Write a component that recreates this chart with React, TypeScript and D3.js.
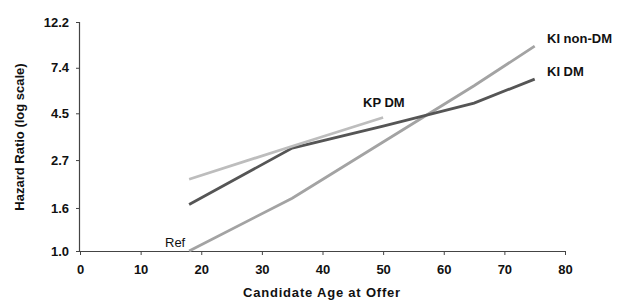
import React, { useRef, useEffect } from "react";
import * as d3 from "d3";

interface Pt {
  age: number;
  hr: number;
}

// values
const ages = [18, 35, 50, 65, 75];
const kiNonDm = [1.0, 1.78, 3.29, 6.08, 9.37];
const kiDm = [1.66, 3.08, 3.91, 5.03, 6.54];
const kpAges = [18, 35, 50];
const kpDm = [2.19, 3.14, 4.3];

const xTicks = [0, 10, 20, 30, 40, 50, 60, 70, 80];
const yTicks = [1.0, 1.6, 2.7, 4.5, 7.4, 12.2];

const series = [
  { name: "KI non-DM", ages: ages, values: kiNonDm, color: "#a3a3a3" },
  { name: "KI DM", ages: ages, values: kiDm, color: "#555555" },
  { name: "KP DM", ages: kpAges, values: kpDm, color: "#bdbdbd" },
];

const width = 621;
const height = 301;
const font = "'Liberation Sans', Arial, sans-serif";

const App: React.FC = () => {
  const svgRef = useRef<SVGSVGElement | null>(null);

  useEffect(() => {
    if (!svgRef.current) return;
    const svg = d3.select(svgRef.current);
    svg.selectAll("*").remove();

    const x = d3.scaleLinear().domain([0, 80]).range([80, 565]);
    const y = d3.scaleLog().domain([1, 12.2]).range([251, 22]);

    // axes
    const xAxis = svg.append("g")
      .attr("transform", `translate(0,${y(1)})`)
      .call(d3.axisBottom(x).tickValues(xTicks).tickSize(4).tickPadding(10).tickFormat(d3.format("d")));
    const yAxis = svg.append("g")
      .attr("transform", `translate(${x(0)},0)`)
      .call(d3.axisLeft(y).tickValues(yTicks).tickSize(4).tickPadding(7).tickFormat(d3.format(".1f")));

    [xAxis, yAxis].forEach((g) => {
      g.select(".domain").attr("stroke", "#444").attr("stroke-width", 1.2);
      g.selectAll(".tick line").attr("stroke", "#444");
      g.selectAll(".tick text")
        .attr("fill", "#111")
        .style("font-family", font)
        .style("font-size", "13px")
        .style("font-weight", "bold");
    });
    xAxis.select(".domain").attr("d", `M${x(0)},0.5H${x(80)}`);
    yAxis.select(".domain").attr("d", `M-0.5,${y(12.2)}V${y(1)}`);

    // lines
    const line = d3.line<Pt>()
      .x((d) => x(d.age))
      .y((d) => y(d.hr));

    series.forEach((s) => {
      const pts: Pt[] = s.ages.map((a, i) => ({ age: a, hr: s.values[i] }));
      svg.append("path")
        .attr("d", line(pts) || "")
        .attr("fill", "none")
        .attr("stroke", s.color)
        .attr("stroke-width", 2.8);
    });

    // labels
    const labels = [
      { text: "KI non-DM", x: 547, y: 43, bold: true },
      { text: "KI DM", x: 547, y: 76, bold: true },
      { text: "KP DM", x: 363, y: 107, bold: true },
      { text: "Ref", x: 165, y: 247, bold: false },
    ];
    labels.forEach((l) => {
      svg.append("text")
        .attr("x", l.x)
        .attr("y", l.y)
        .attr("fill", "#111")
        .style("font-family", font)
        .style("font-size", "13px")
        .style("font-weight", l.bold ? "bold" : "normal")
        .text(l.text);
    });

    svg.append("text")
      .attr("x", 322)
      .attr("y", 297)
      .attr("text-anchor", "middle")
      .attr("fill", "#111")
      .style("font-family", font)
      .style("font-size", "13px")
      .style("font-weight", "bold")
      .style("letter-spacing", "0.8px")
      .text("Candidate Age at Offer");

    svg.append("text")
      .attr("transform", `translate(24,137) rotate(-90)`)
      .attr("text-anchor", "middle")
      .attr("fill", "#111")
      .style("font-family", font)
      .style("font-size", "13px")
      .style("font-weight", "bold")
      .text("Hazard Ratio (log scale)");
  }, []);

  return (
    <div>
      <style>{`body{margin:0}`}</style>
      <svg ref={svgRef} width={width} height={height} style={{ display: "block", background: "#fff" }} />
    </div>
  );
};

export default App;
